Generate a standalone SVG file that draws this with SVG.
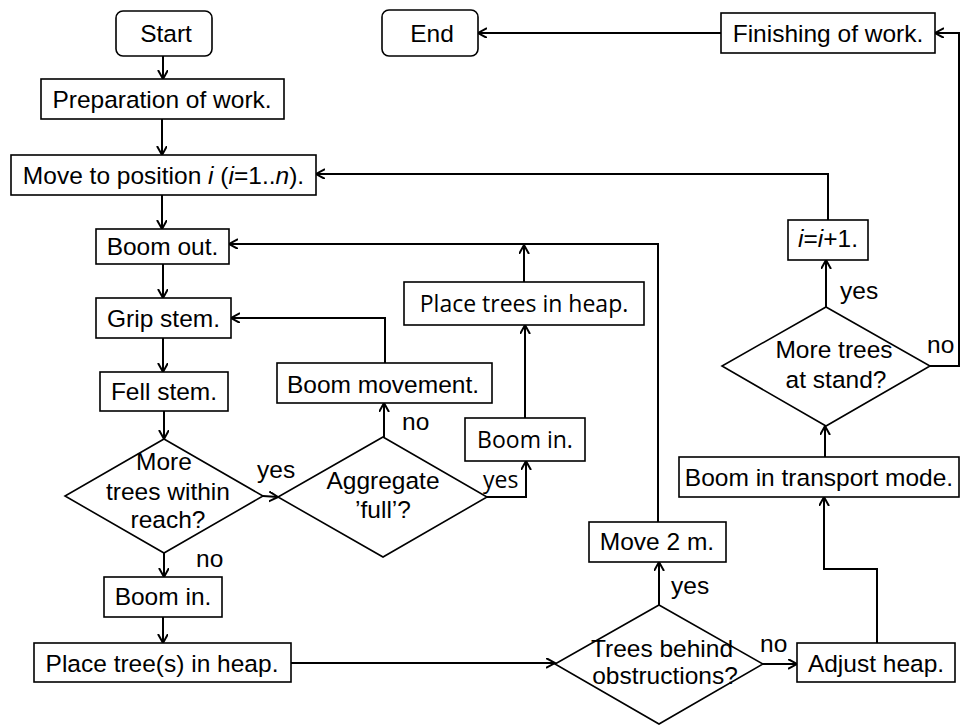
<svg xmlns="http://www.w3.org/2000/svg" width="965" height="725" viewBox="0 0 965 725">
<style>
.b{fill:#fff;stroke:#000;stroke-width:1.6}
.t{font-family:"Liberation Sans",Arial,sans-serif;font-size:24.5px;fill:#000;text-anchor:middle}
.l{font-family:"Liberation Sans",Arial,sans-serif;font-size:24.5px;fill:#000}
.o{font-family:"Open Sans","Noto Sans",sans-serif;font-size:23px;fill:#000}
.c path{fill:none;stroke:#000;stroke-width:2}
</style>
<defs>
<marker id="a" markerUnits="userSpaceOnUse" markerWidth="12" markerHeight="12" refX="9" refY="5" orient="auto">
<path d="M0,0 L9,5 L0,10" fill="none" stroke="#000" stroke-width="2"/>
</marker>
</defs>
<g class="c">
<path d="M163,56 V79" marker-end="url(#a)"/>
<path d="M162,119 V155" marker-end="url(#a)"/>
<path d="M162,195 V229" marker-end="url(#a)"/>
<path d="M163,264 V298" marker-end="url(#a)"/>
<path d="M163,338 V372" marker-end="url(#a)"/>
<path d="M164,411 V439" marker-end="url(#a)"/>
<path d="M164,553 V577" marker-end="url(#a)"/>
<path d="M163,617 V643" marker-end="url(#a)"/>
<path d="M291,663 H555" marker-end="url(#a)"/>
<path d="M263,496 L278,497" marker-end="url(#a)"/>
<path d="M384,437 V403" marker-end="url(#a)"/>
<path d="M385,363 V318 H231" marker-end="url(#a)"/>
<path d="M487,497 H526 V461" marker-end="url(#a)"/>
<path d="M525,418 V325" marker-end="url(#a)"/>
<path d="M524,282 V245" marker-end="url(#a)"/>
<path d="M658,522 V244 H229" marker-end="url(#a)"/>
<path d="M659,605 V562" marker-end="url(#a)"/>
<path d="M763,664 H797" marker-end="url(#a)"/>
<path d="M877,643 V569 H824 V497" marker-end="url(#a)"/>
<path d="M825,457 V426" marker-end="url(#a)"/>
<path d="M826,307 V260" marker-end="url(#a)"/>
<path d="M828,220 V174 H316" marker-end="url(#a)"/>
<path d="M930,366 H959 V33 H935" marker-end="url(#a)"/>
<path d="M721,33 H478" marker-end="url(#a)"/>
</g>
<g id="start"><rect class="b" x="116" y="11" width="96" height="45" rx="7"/><text class="t" x="166" y="42">Start</text></g>
<g id="end"><rect class="b" x="382" y="10" width="96" height="46" rx="7"/><text class="t" x="432" y="42">End</text></g>
<g id="prep"><rect class="b" x="41" y="79" width="243" height="40"/><text class="t" x="162" y="108">Preparation of work.</text></g>
<g id="move"><rect class="b" x="11" y="155" width="305" height="40"/><text class="t" x="163.5" y="184">Move to position <tspan font-style="italic">i</tspan> (<tspan font-style="italic">i</tspan>=1..<tspan font-style="italic">n</tspan>).</text></g>
<g id="boomout"><rect class="b" x="96" y="229" width="133" height="35"/><text class="t" x="162.5" y="255">Boom out.</text></g>
<g id="grip"><rect class="b" x="96" y="298" width="135" height="40"/><text class="t" x="163.5" y="327">Grip stem.</text></g>
<g id="fell"><rect class="b" x="100" y="372" width="128" height="39"/><text class="t" x="164" y="400">Fell stem.</text></g>
<g id="more"><polygon class="b" points="164,439 263,496 164,553 65,496"/><text class="t" x="164" y="470">More</text><text class="t" x="168" y="500">trees within</text><text class="t" x="168" y="528">reach?</text></g>
<g id="aggregate"><polygon class="b" points="383,437 487,497 383,557 278,497"/><text class="t" x="383" y="489">Aggregate</text><text class="t" x="383" y="518">’full’?</text></g>
<g id="boommove"><rect class="b" x="277" y="363" width="215" height="40"/><text class="t" x="383" y="393">Boom movement.</text></g>
<g id="boomin2"><rect class="b" x="465" y="418" width="120" height="43"/><text class="o" x="525" y="448" text-anchor="middle">Boom in.</text></g>
<g id="placetrees"><rect class="b" x="404" y="282" width="240" height="43"/><text class="o" x="524" y="312" text-anchor="middle">Place trees in heap.</text></g>
<g id="boomin1"><rect class="b" x="104" y="577" width="118" height="40"/><text class="t" x="163" y="605">Boom in.</text></g>
<g id="placetree"><rect class="b" x="34" y="643" width="257" height="39"/><text class="t" x="162" y="672">Place tree(s) in heap.</text></g>
<g id="behind"><polygon class="b" points="659,605 763,664 659,724 555,664"/><text class="t" x="662" y="657">Trees behind</text><text class="t" x="665" y="684">obstructions?</text></g>
<g id="move2"><rect class="b" x="589" y="522" width="137" height="40"/><text class="t" x="657" y="550">Move 2 m.</text></g>
<g id="adjust"><rect class="b" x="797" y="643" width="158" height="39"/><text class="t" x="876" y="672">Adjust heap.</text></g>
<g id="transport"><rect class="b" x="679" y="457" width="280" height="40"/><text class="t" x="819" y="486">Boom in transport mode.</text></g>
<g id="stand"><polygon class="b" points="826,307 930,366 826,426 722,366"/><text class="t" x="834" y="358">More trees</text><text class="t" x="836" y="388">at stand?</text></g>
<g id="inc"><rect class="b" x="788" y="220" width="80" height="40"/><text class="t" x="828" y="247"><tspan font-style="italic">i</tspan>=<tspan font-style="italic">i</tspan>+1.</text></g>
<g id="finish"><rect class="b" x="721" y="13" width="214" height="40"/><text class="t" x="828" y="42">Finishing of work.</text></g>
<g id="labels">
<text class="l" x="257" y="478">yes</text>
<text class="l" x="196" y="567">no</text>
<text class="l" x="402" y="430">no</text>
<text class="o" x="483" y="488">yes</text>
<text class="l" x="671" y="594">yes</text>
<text class="l" x="760" y="652">no</text>
<text class="l" x="840" y="299">yes</text>
<text class="l" x="927" y="353">no</text>
</g>
</svg>
